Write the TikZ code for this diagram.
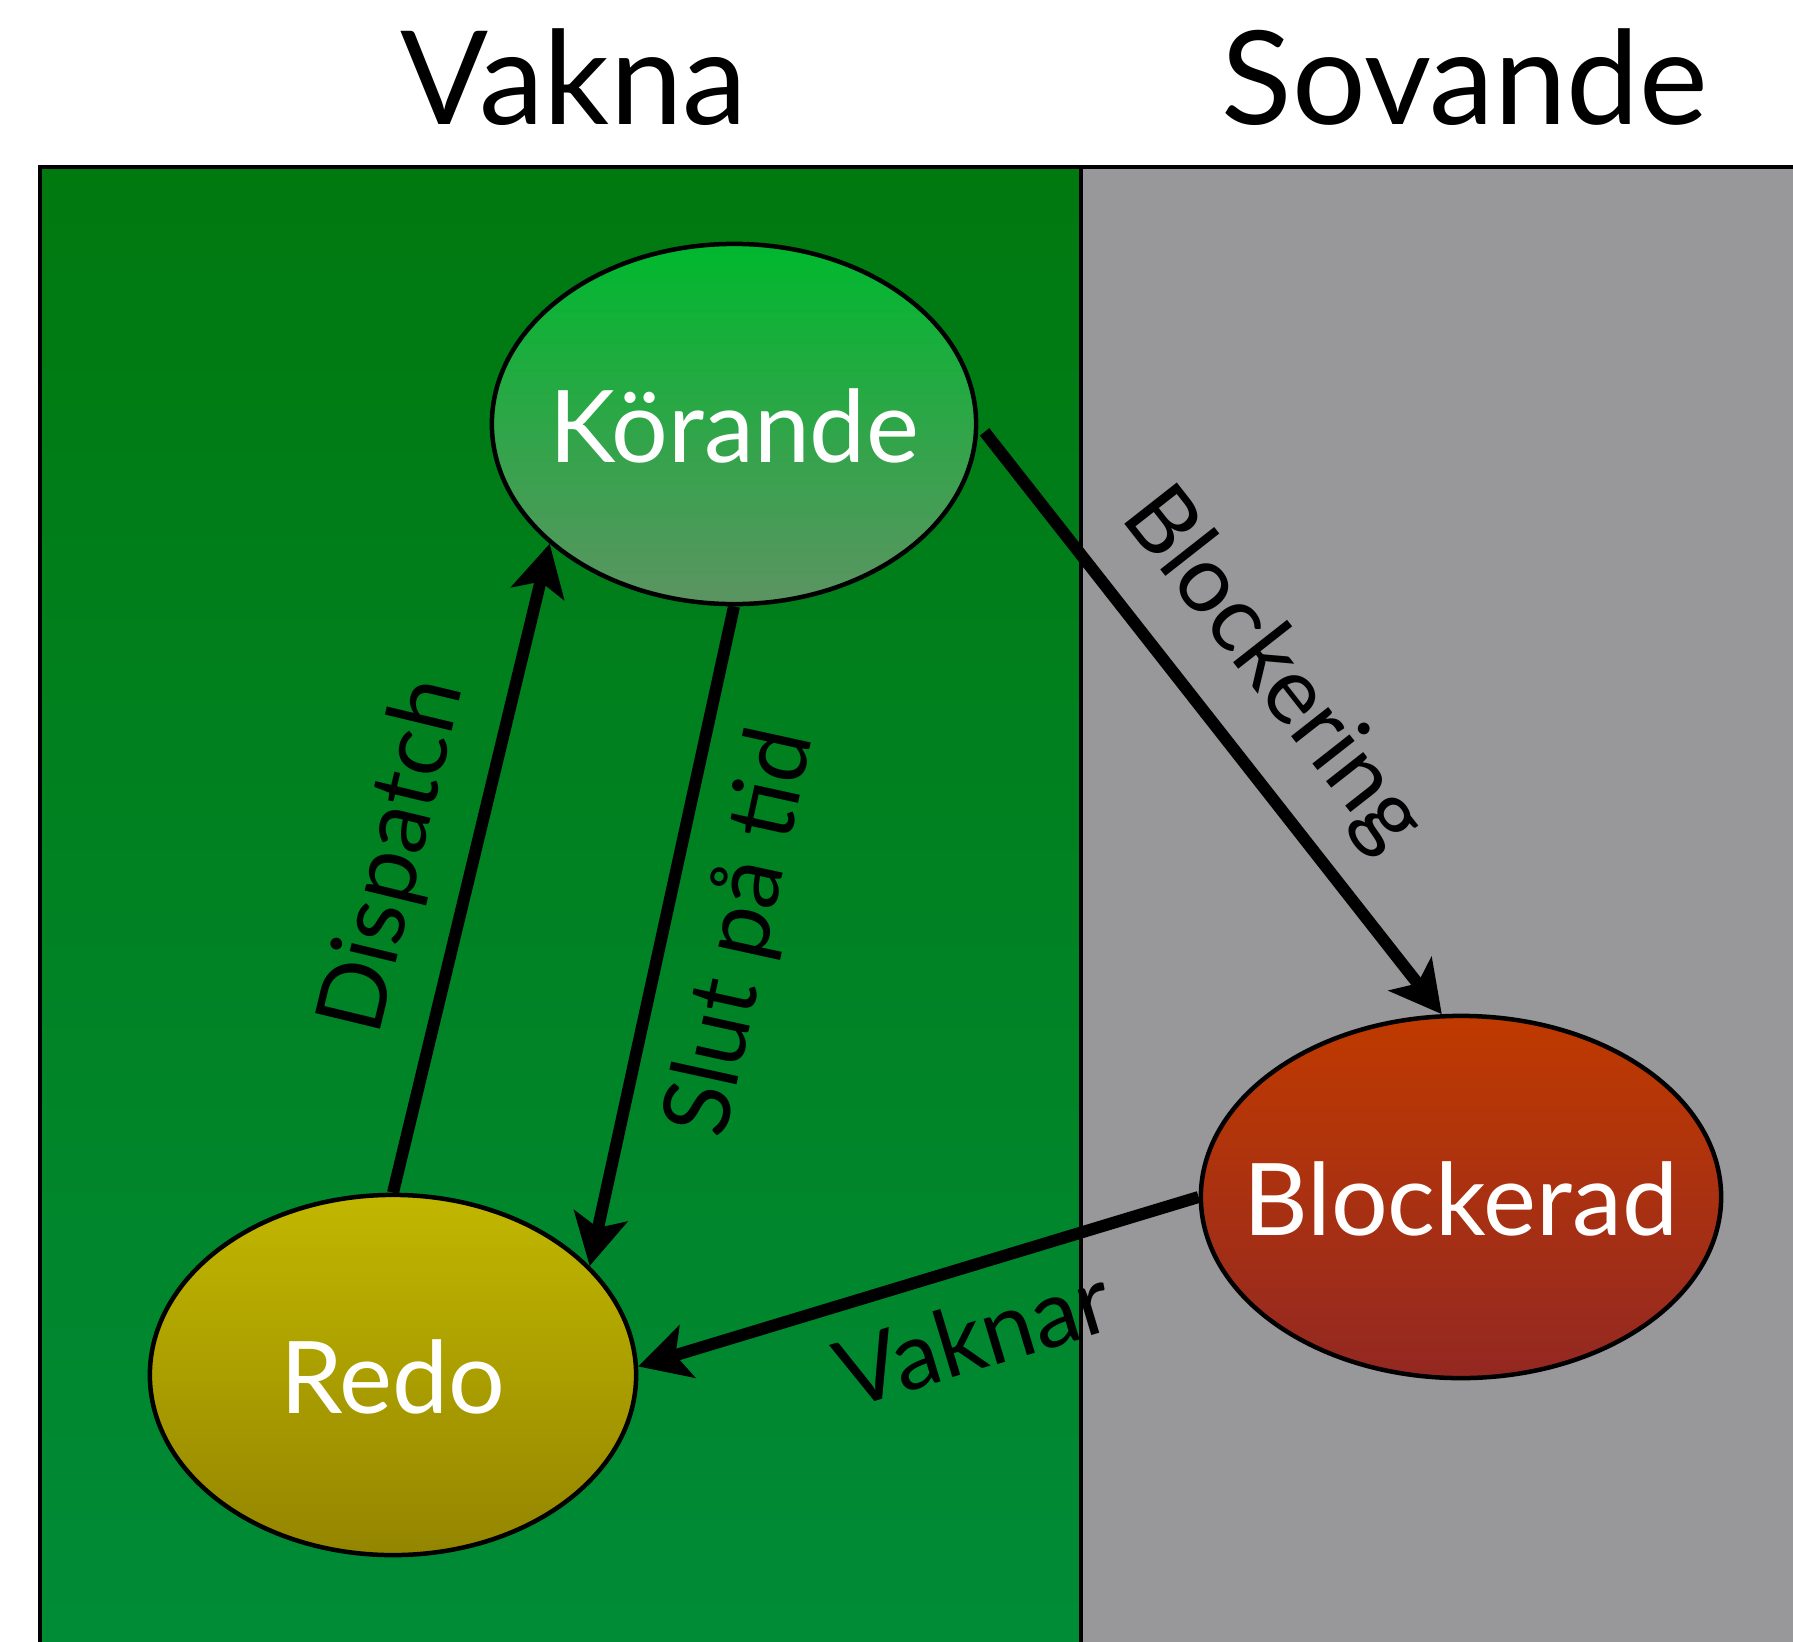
\documentclass[tikz,border=0pt]{standalone}
\usepackage{fontspec}
\setmainfont{Lato}
\usetikzlibrary{shapes.geometric,arrows.meta}
\definecolor{bgtop}{RGB}{0,121,15}
\definecolor{bgbot}{RGB}{0,139,55}
\definecolor{sleepgray}{RGB}{152,152,154}
\definecolor{kortop}{RGB}{0,184,46}
\definecolor{korbot}{RGB}{92,148,98}
\definecolor{redotop}{RGB}{193,183,0}
\definecolor{redobot}{RGB}{148,133,0}
\definecolor{blktop}{RGB}{192,58,0}
\definecolor{blkbot}{RGB}{147,40,34}
\begin{document}
\begin{tikzpicture}[x=0.01cm,y=-0.01cm,
  state/.style={ellipse, draw=black, line width=0.045cm, inner sep=0pt, text=white,
    text height=22pt, text depth=0pt, font=\fontsize{28.5}{34}\selectfont},
  flow/.style={line width=0.12cm, -{Stealth[length=0.51cm,width=0.54cm,inset=0.12cm]}},
  flowlabel/.style={sloped, anchor=center, font=\fontsize{26.5}{32}\selectfont},
  title/.style={anchor=base, font=\fontsize{37}{44}\selectfont}]
\useasboundingbox (0,0) rectangle (1793,1642);
\fill[top color=bgtop, bottom color=bgbot] (40,167) rectangle (1081,1642);
\fill[sleepgray] (1081,167) rectangle (1793,1642);
\draw[line width=0.045cm] (40,1642) -- (40,167) -- (1793,167);
\draw[line width=0.035cm] (1081,167) -- (1081,1642);

\node[title] (vakna) at (574,124) {Vakna};
\node[title] (sovande) at (1465,124) {Sovande};

\node[state, minimum width=4.84cm, minimum height=3.6cm, top color=kortop, bottom color=korbot]
  (korande) at (734,424) {\makebox[0pt]{Körande}};
\node[state, minimum width=4.86cm, minimum height=3.6cm, top color=redotop, bottom color=redobot]
  (redo) at (393,1375) {\makebox[0pt]{Redo}};
\node[state, minimum width=5.2cm, minimum height=3.62cm, top color=blktop, bottom color=blkbot]
  (blockerad) at (1461,1197) {\makebox[0pt]{Blockerad}};

\draw[flow] (redo.north) -- node[flowlabel, pos=0.49, yshift=0.77cm] (ldispatch) {Dispatch} (korande.213);
\draw[flow] (korande.south) -- node[flowlabel, pos=0.47, yshift=-0.78cm] (lslut) {Slut på tid} (redo.29);
\draw[flow, shorten <=0.1cm] (korande.east) -- node[flowlabel, pos=0.5, yshift=0.79cm] (lblock) {Blockering} (blockerad.96);
\draw[flow] (blockerad.west) -- node[flowlabel, pos=0.437, yshift=-0.68cm] (lvaknar) {Vaknar} (redo.2);
\end{tikzpicture}
\end{document}
